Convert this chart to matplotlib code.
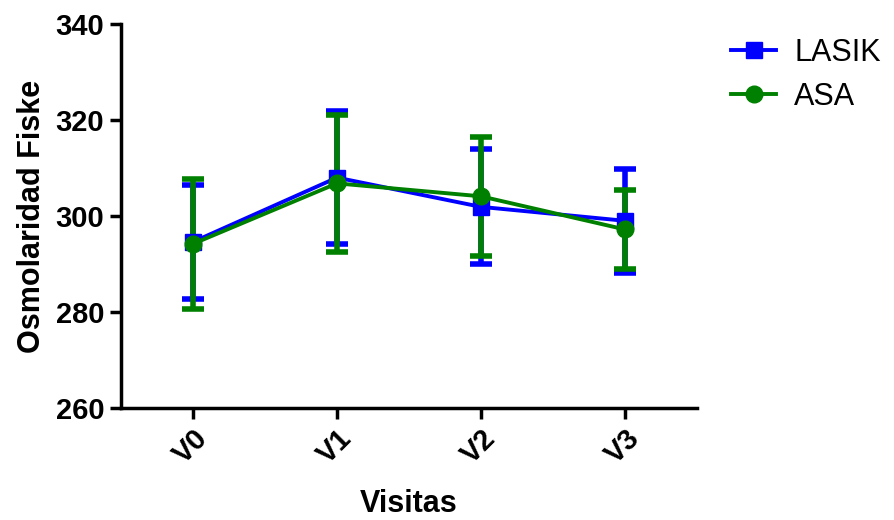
import numpy as np
import matplotlib.pyplot as plt
from matplotlib.lines import Line2D

plt.rcParams['font.family'] = ['Liberation Sans', 'DejaVu Sans']

visits = ['V0', 'V1', 'V2', 'V3']
lasik_mean = [294.6, 308.0, 301.9, 299.0]
lasik_sd = [11.8, 13.9, 12.0, 10.8]
asa_mean = [294.2, 306.8, 304.1, 297.2]
asa_sd = [13.6, 14.2, 12.4, 8.3]

fig = plt.figure(figsize=(8.95, 5.2), dpi=100)
ax = fig.add_axes([121 / 895, 1 - 408 / 520, 576 / 895, 384 / 520])

x = np.arange(len(visits))
ax.errorbar(x, lasik_mean, yerr=lasik_sd, color='#0000ff', marker='s', ms=11,
            lw=2.8, elinewidth=4, capsize=8, capthick=4)
ax.errorbar(x, asa_mean, yerr=asa_sd, color='#008000', marker='o', ms=12,
            lw=2.8, elinewidth=4, capsize=8, capthick=4)

ax.set_xlim(-0.5, 3.5)
ax.set_ylim(260, 340)
ax.set_yticks([260, 280, 300, 320, 340])
ax.set_xticks(x)
ax.set_xticklabels(visits, rotation=45, ha='right', rotation_mode='anchor')

for s in ['top', 'right']:
    ax.spines[s].set_visible(False)
for s in ['left', 'bottom']:
    ax.spines[s].set_linewidth(2.5)
ax.tick_params(width=2.5, length=8, labelsize=21, pad=4)
for lab in ax.get_xticklabels() + ax.get_yticklabels():
    lab.set_fontweight('bold')

ax.set_ylabel('Osmolaridad Fiske', fontsize=22, fontweight='bold', labelpad=6)
ax.set_xlabel('Visitas', fontsize=22, fontweight='bold', labelpad=14)

handles = [Line2D([], [], color='#0000ff', marker='s', ms=11, lw=2.8),
           Line2D([], [], color='#008000', marker='o', ms=12, lw=2.8)]
ax.legend(handles, ['LASIK', 'ASA'], loc='upper left', bbox_to_anchor=(1.012, 1.035),
          frameon=False, fontsize=22, handlelength=1.45, handletextpad=0.6,
          labelspacing=0.45)

fig.savefig('out.png', dpi=100)
